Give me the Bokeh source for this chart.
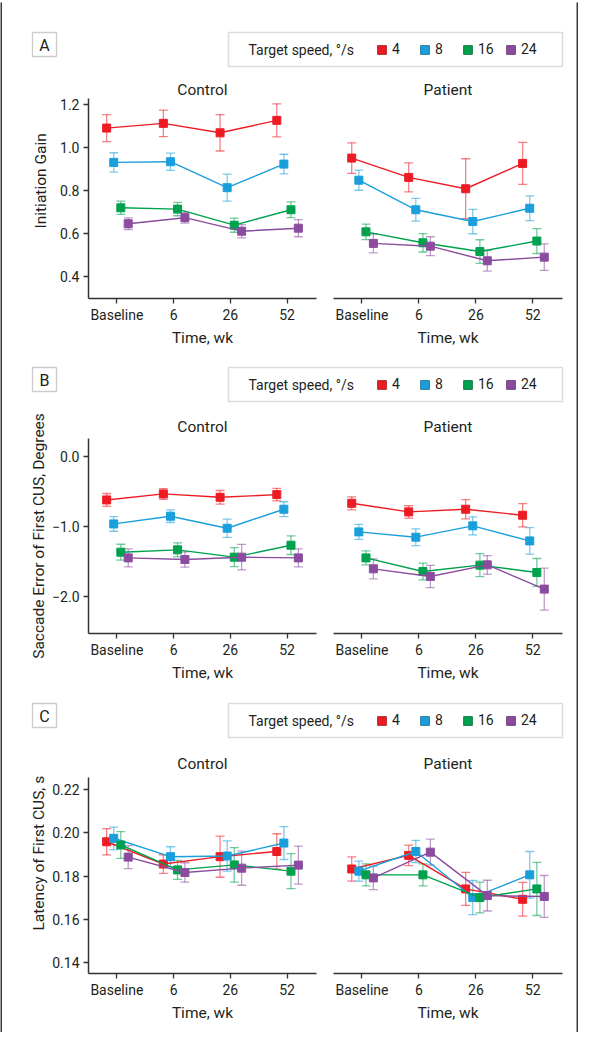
from bokeh.plotting import figure
from bokeh.layouts import column, row
from bokeh.models import (ColumnDataSource, Whisker, TeeHead, FixedTicker, Range1d, Title,
                          Legend, LegendItem, Label, BoxAnnotation, NumeralTickFormatter)
from bokeh.embed import file_html
from bokeh.resources import INLINE

FONT = "Roboto"
TXT = "#231f20"
FRAME = "#3c3c3c"
NAN = float("nan")

# ---------------- data ----------------
weeks = ["Baseline", "6", "26", "52"]
speeds = ["4", "8", "16", "24"]
colors = ["#ed1c24", "#1a9fdb", "#00a14e", "#8b4c9f"]
legend_edges = ["#9a1016", "#10668e", "#006632", "#5a2f68"]

# Panel A - Initiation gain (mean, half-width of error bar)
gain_ctrl_4 = [1.091, 1.113, 1.069, 1.127]
gain_ctrl_4_err = [0.063, 0.062, 0.085, 0.077]
gain_ctrl_8 = [0.931, 0.934, 0.813, 0.923]
gain_ctrl_8_err = [0.045, 0.040, 0.063, 0.046]
gain_ctrl_16 = [0.719, 0.713, 0.638, 0.710]
gain_ctrl_16_err = [0.031, 0.031, 0.033, 0.037]
gain_ctrl_24 = [0.645, 0.673, 0.610, 0.624]
gain_ctrl_24_err = [0.027, 0.025, 0.031, 0.040]

gain_pat_4 = [0.951, 0.861, 0.808, 0.926]
gain_pat_4_err = [0.071, 0.068, 0.140, 0.098]
gain_pat_8 = [0.848, 0.710, 0.655, 0.717]
gain_pat_8_err = [0.047, 0.053, 0.057, 0.058]
gain_pat_16 = [0.607, 0.556, 0.515, 0.564]
gain_pat_16_err = [0.036, 0.043, 0.055, 0.058]
gain_pat_24 = [0.553, 0.540, 0.472, 0.489]
gain_pat_24_err = [0.044, 0.044, 0.048, 0.062]

# Panel B - Saccade error of first CUS (deg)
err_ctrl_4 = [-0.619, -0.533, -0.581, -0.543]
err_ctrl_4_err = [0.092, 0.077, 0.097, 0.090]
err_ctrl_8 = [-0.962, -0.852, -1.024, -0.752]
err_ctrl_8_err = [0.105, 0.090, 0.130, 0.107]
err_ctrl_16 = [-1.367, -1.333, -1.438, -1.267]
err_ctrl_16_err = [0.114, 0.100, 0.136, 0.133]
err_ctrl_24 = [-1.448, -1.471, -1.438, -1.448]
err_ctrl_24_err = [0.130, 0.110, 0.183, 0.130]

err_pat_4 = [-0.667, -0.790, -0.752, -0.838]
err_pat_4_err = [0.093, 0.088, 0.138, 0.167]
err_pat_8 = [-1.076, -1.152, -0.990, -1.205]
err_pat_8_err = [0.107, 0.120, 0.130, 0.190]
err_pat_16 = [-1.448, -1.643, -1.552, -1.657]
err_pat_16_err = [0.100, 0.120, 0.164, 0.200]
err_pat_24 = [-1.605, -1.714, -1.548, -1.895]
err_pat_24_err = [0.143, 0.160, 0.133, 0.300]

# Panel C - Latency of first CUS (s)
lat_ctrl_4 = [0.1959, 0.1856, 0.1890, 0.1914]
lat_ctrl_4_err = [0.0061, 0.0043, 0.0095, 0.0082]
lat_ctrl_8 = [0.1975, 0.1890, 0.1893, 0.1953]
lat_ctrl_8_err = [0.0052, 0.0046, 0.0070, 0.0076]
lat_ctrl_16 = [0.1944, 0.1829, 0.1852, 0.1823]
lat_ctrl_16_err = [0.0062, 0.0044, 0.0080, 0.0081]
lat_ctrl_24 = [0.1888, 0.1817, 0.1837, 0.1851]
lat_ctrl_24_err = [0.0053, 0.0045, 0.0079, 0.0088]

lat_pat_4 = [0.1833, 0.1896, 0.1741, 0.1693]
lat_pat_4_err = [0.0056, 0.0047, 0.0076, 0.0078]
lat_pat_8 = [0.1823, 0.1914, 0.1701, 0.1806]
lat_pat_8_err = [0.0046, 0.0051, 0.0079, 0.0108]
lat_pat_16 = [0.1806, 0.1806, 0.1701, 0.1741]
lat_pat_16_err = [0.0051, 0.0051, 0.0071, 0.0123]
lat_pat_24 = [0.1792, 0.1911, 0.1710, 0.1706]
lat_pat_24_err = [0.0054, 0.0060, 0.0071, 0.0097]

gain_ticks = [0.4, 0.6, 0.8, 1.0, 1.2]
err_ticks = [-2.0, -1.0, 0.0]
err_tick_labels = ["\u22122.0", "\u22121.0", "0.0"]
lat_ticks = [0.14, 0.16, 0.18, 0.20, 0.22]

# ---------------- helpers ----------------
OFFSETS = [-0.18, -0.055, 0.07, 0.2]
TOTAL_W = 578
INNER_W = 574
CTRL_W, PAT_W = 322, 252


def strip(w, h):
    s = figure(width=w, height=h, x_axis_type=None, y_axis_type=None, min_border=0,
               toolbar_location=None, output_backend="svg", outline_line_color=None,
               background_fill_color=FRAME, border_fill_color=FRAME,
               x_range=Range1d(0, 1), y_range=Range1d(0, 1))
    s.grid.visible = False
    return s


def header(letter, H, top):
    h = figure(width=INNER_W, height=H, x_range=Range1d(2, 2 + INNER_W), y_range=Range1d(H, 0),
               x_axis_type=None, y_axis_type=None, min_border=0, toolbar_location=None,
               output_backend="svg", outline_line_color=None)
    h.grid.visible = False
    h.add_layout(BoxAnnotation(left=32, right=56, top=top, bottom=top + 24, fill_alpha=0,
                               line_color="#555555", line_width=1.3))
    h.add_layout(Label(x=44, y=top + 12.5, text=letter, text_align="center", text_baseline="middle",
                       text_font=FONT, text_font_size="16px", text_color=TXT))
    h.add_layout(BoxAnnotation(left=228, right=562, top=top, bottom=top + 34, fill_alpha=0,
                               line_color="#8a8a8a", line_width=1.5))
    h.add_layout(Label(x=248, y=top + 17.5, text="Target speed, \u00b0/s", text_align="left",
                       text_baseline="middle", text_font=FONT, text_font_size="14px", text_color=TXT))
    items = []
    for s, c, e in zip(speeds, colors, legend_edges):
        q = h.quad(left=[NAN], right=[NAN], top=[NAN], bottom=[NAN], fill_color=c,
                   line_color=e, line_width=0.8)
        items.append(LegendItem(label=s, renderers=[q]))
    leg = Legend(items=items, orientation="horizontal", location=(374, H - (top + 27)),
                 glyph_width=11, glyph_height=11, label_standoff=5, label_width=20, spacing=7,
                 padding=0, margin=0, label_height=20, border_line_alpha=0, background_fill_alpha=0,
                 label_text_font=FONT, label_text_font_size="14px", label_text_color=TXT)
    h.add_layout(leg, "center")
    return h


def subplot(title, series, yr, ticks, tick_labels, fmt, ylabel, H, W, left, right, top, bottom,
            standoff, ylab, show_y):
    p = figure(width=W, height=H, x_range=Range1d(-0.5, 3.52), y_range=Range1d(*yr),
               y_axis_type="linear" if show_y else None, title=title,
               min_border_left=left, min_border_right=right, min_border_top=top,
               min_border_bottom=bottom, toolbar_location=None, output_backend="svg",
               outline_line_color=None)
    p.title.align = "center"
    p.title.text_font = FONT
    p.title.text_font_size = "15.5px"
    p.title.text_font_style = "normal"
    p.title.text_color = TXT
    p.title.standoff = standoff
    p.grid.visible = False

    xa = p.xaxis[0]
    xa.ticker = FixedTicker(ticks=[0, 1, 2, 3])
    xa.major_label_overrides = {i: w for i, w in enumerate(weeks)}
    xa.axis_label = "Time, wk"
    axes = [xa]
    if show_y:
        ya = p.yaxis[0]
        ya.ticker = FixedTicker(ticks=ticks)
        if tick_labels is not None:
            ya.major_label_overrides = dict(zip(ticks, tick_labels))
        else:
            ya.formatter = NumeralTickFormatter(format=fmt)
        ya.major_label_standoff = 4
        axes.append(ya)
        align, offset, lab_standoff = ylab
        p.add_layout(Title(text=ylabel, align=align, offset=offset, standoff=lab_standoff,
                           text_font=FONT, text_font_size="15.5px", text_font_style="normal",
                           text_color=TXT), "left")
    for a in axes:
        a.axis_line_color = "#333333"
        a.axis_line_width = 1.5
        a.major_tick_line_color = "#333333"
        a.major_tick_line_width = 1.3
        a.major_tick_in = 0
        a.major_tick_out = 5
        a.minor_tick_in = 0
        a.minor_tick_out = 0
        a.major_label_text_font = FONT
        a.major_label_text_font_size = "14px"
        a.major_label_text_color = TXT
        a.axis_label_text_font = FONT
        a.axis_label_text_font_size = "15.5px"
        a.axis_label_text_font_style = "normal"
        a.axis_label_text_color = TXT
    xa.major_label_standoff = 3
    xa.axis_label_standoff = 3

    for k, (mean, err) in enumerate(series):
        c = colors[k]
        xs = [i + OFFSETS[k] for i in range(len(weeks))]
        src = ColumnDataSource(dict(x=xs, y=mean, lo=[m - e for m, e in zip(mean, err)],
                                    hi=[m + e for m, e in zip(mean, err)]))
        wk = Whisker(source=src, base="x", upper="hi", lower="lo", dimension="height",
                     line_color=c, line_alpha=0.55, line_width=1.3, level="underlay",
                     upper_head=TeeHead(size=9, line_color=c, line_alpha=0.55, line_width=1.3),
                     lower_head=TeeHead(size=9, line_color=c, line_alpha=0.55, line_width=1.3))
        p.add_layout(wk)
        p.line("x", "y", source=src, line_color=c, line_width=1.4)
        p.scatter("x", "y", source=src, marker="square", size=8, fill_color=c, line_color=c)
    return p


def panel(letter, hdr_h, hdr_top, ctrl_series, pat_series, yr, ticks, tick_labels,
          fmt, ylabel, H, top, bottom, standoff, ylab):
    h = header(letter, hdr_h, hdr_top)
    c = subplot("Control", ctrl_series, yr, ticks, tick_labels, fmt, ylabel, H, CTRL_W, 86, 8,
                top, bottom, standoff, ylab, True)
    p = subplot("Patient", pat_series, yr, ticks, tick_labels, fmt, ylabel, H, PAT_W, 9, 14,
                top, bottom, standoff, ylab, False)
    return [h, row(c, p)]


A = panel("A", 70, 30,
          [(gain_ctrl_4, gain_ctrl_4_err), (gain_ctrl_8, gain_ctrl_8_err),
           (gain_ctrl_16, gain_ctrl_16_err), (gain_ctrl_24, gain_ctrl_24_err)],
          [(gain_pat_4, gain_pat_4_err), (gain_pat_8, gain_pat_8_err),
           (gain_pat_16, gain_pat_16_err), (gain_pat_24, gain_pat_24_err)],
          (0.296, 1.229), gain_ticks, None, "0.0", "Initiation Gain",
          279, 26, 53, 0, ("left", 70, 15))
B = panel("B", 56, 16,
          [(err_ctrl_4, err_ctrl_4_err), (err_ctrl_8, err_ctrl_8_err),
           (err_ctrl_16, err_ctrl_16_err), (err_ctrl_24, err_ctrl_24_err)],
          [(err_pat_4, err_pat_4_err), (err_pat_8, err_pat_8_err),
           (err_pat_16, err_pat_16_err), (err_pat_24, err_pat_24_err)],
          (-2.53, 0.26), err_ticks, err_tick_labels, None, "Saccade Error of First CUS, Degrees",
          280, 31, 54, 5, ("center", 0, 4))
C = panel("C", 56, 16,
          [(lat_ctrl_4, lat_ctrl_4_err), (lat_ctrl_8, lat_ctrl_8_err),
           (lat_ctrl_16, lat_ctrl_16_err), (lat_ctrl_24, lat_ctrl_24_err)],
          [(lat_pat_4, lat_pat_4_err), (lat_pat_8, lat_pat_8_err),
           (lat_pat_16, lat_pat_16_err), (lat_pat_24, lat_pat_24_err)],
          (0.135, 0.2256), lat_ticks, None, "0.00", "Latency of First CUS, s",
          289, 34, 59, 9, ("left", 43, 4))

content = column(*A, *B, *C)
layout = column(strip(TOTAL_W, 2),
                row(strip(2, 1030), content, strip(2, 1030)),
                strip(TOTAL_W, 2))

open("out.html", "w").write(file_html(layout, INLINE))
